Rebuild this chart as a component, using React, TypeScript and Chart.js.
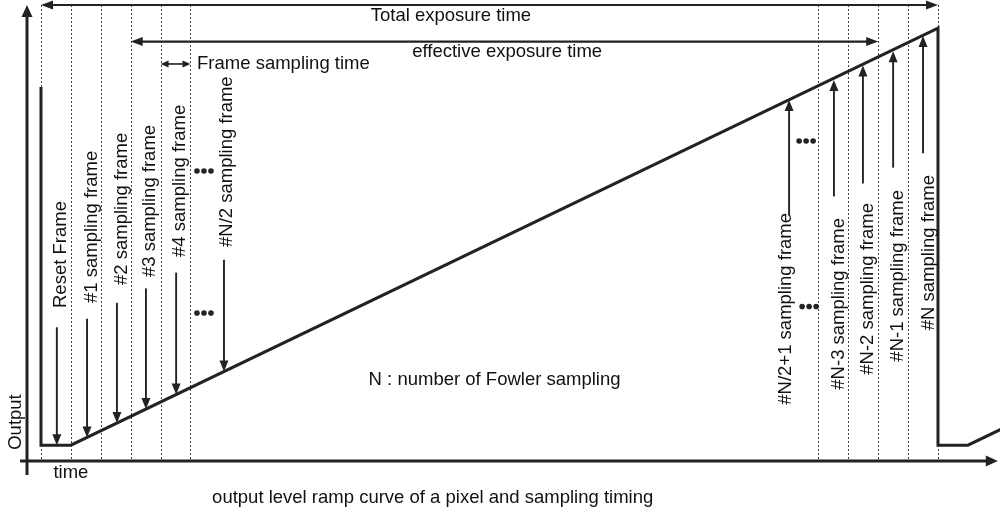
import React, { useEffect, useRef } from "react";
import { Chart, registerables } from "chart.js";

Chart.register(...registerables);

// ---- data (time in frame units, output in arbitrary units) ----
const frameBoundaries = [0, 1, 2, 3, 4, 5, 26, 27, 28, 29, 30];
const signalTime = [0, 0, 1, 30, 30, 31, 32.1];
const signalOutput = [26.0, 1.1, 1.1, 30.1, 1.1, 1.1, 2.2];

const leftFrameLabels = [
  "Reset Frame",
  "#1 sampling frame",
  "#2 sampling frame",
  "#3 sampling frame",
  "#4 sampling frame",
  "#N/2 sampling frame",
];
const leftArrowTime = [0.53, 1.54, 2.54, 3.51, 4.52, 6.12];
const leftArrowFrom = [9.3, 9.9, 11.0, 12.0, 13.1, 14.0];
const leftArrowTo = [1.1, 1.64, 2.64, 3.61, 4.62, 6.22];
const leftLabelTime = [0.67, 1.71, 2.71, 3.65, 4.65, 6.22];
const leftLabelOutput = [10.64, 10.99, 12.24, 12.79, 14.19, 14.88];

const rightFrameLabels = [
  "#N/2+1 sampling frame",
  "#N-3 sampling frame",
  "#N-2 sampling frame",
  "#N-1 sampling frame",
  "#N sampling frame",
];
const rightArrowTime = [25.02, 26.52, 27.49, 28.5, 29.5];
const rightArrowFrom = [17.1, 18.4, 19.3, 20.4, 21.4];
const rightArrowTo = [25.1, 26.5, 27.5, 28.5, 29.55];
const rightLabelTime = [24.92, 26.69, 27.66, 28.66, 29.7];
const rightLabelOutput = [17.25, 16.9, 17.94, 18.85, 19.89];

const ellipsisTime = [5.45, 5.45, 25.59, 25.69];
const ellipsisOutput = [20.17, 10.29, 22.25, 10.74];

const spanLabels = ["Total exposure time", "effective exposure time", "Frame sampling time"];
const spanStart = [0, 3, 4];
const spanEnd = [30, 28, 5];
const spanOutput = [31.71, 29.17, 27.61];
const spanLabelTime = [13.71, 15.59, 5.22];
const spanLabelOutput = [30.95, 28.44, 27.61];

const noteText = "N : number of Fowler sampling";
const noteTime = 15.17;
const noteOutput = 5.63;
const xAxisTitle = "time";
const yAxisTitle = "Output";
const caption = "output level ramp curve of a pixel and sampling timing";

const xAxisRange = [-0.7, 32.0];
const yAxisRange = [-0.97, 31.71];
const yAxisAt = -0.468;

const X_MIN = -1.371;
const X_MAX = 32.074;
const Y_MIN = -3.686;
const Y_MAX = 32.058;

const INK = "#222";
const FONT = "18.5px 'Liberation Sans', Arial, Helvetica, sans-serif";

function arrowHead(ctx: CanvasRenderingContext2D, x1: number, y1: number, x2: number, y2: number, len: number, hw: number) {
  const a = Math.atan2(y2 - y1, x2 - x1);
  ctx.beginPath();
  ctx.moveTo(x2, y2);
  ctx.lineTo(x2 - len * Math.cos(a) + hw * Math.sin(a), y2 - len * Math.sin(a) - hw * Math.cos(a));
  ctx.lineTo(x2 - len * Math.cos(a) - hw * Math.sin(a), y2 - len * Math.sin(a) + hw * Math.cos(a));
  ctx.closePath();
  ctx.fill();
}

function arrow(ctx: CanvasRenderingContext2D, x1: number, y1: number, x2: number, y2: number, len: number, hw: number) {
  const a = Math.atan2(y2 - y1, x2 - x1);
  ctx.beginPath();
  ctx.moveTo(x1, y1);
  ctx.lineTo(x2 - (len - 1) * Math.cos(a), y2 - (len - 1) * Math.sin(a));
  ctx.stroke();
  arrowHead(ctx, x1, y1, x2, y2, len, hw);
}

const diagramPlugin = {
  id: "diagram",
  beforeDatasetsDraw(chart: any) {
    const ctx: CanvasRenderingContext2D = chart.ctx;
    const xs = chart.scales.x;
    const ys = chart.scales.y;
    const px = (t: number) => xs.getPixelForValue(t);
    const py = (v: number) => ys.getPixelForValue(v);
    ctx.save();
    // dotted frame boundaries
    ctx.strokeStyle = "#444";
    ctx.lineWidth = 1;
    ctx.setLineDash([2, 2]);
    frameBoundaries.forEach((t) => {
      const x = Math.round(px(t)) + 0.5;
      ctx.beginPath();
      ctx.moveTo(x, py(spanOutput[0]));
      ctx.lineTo(x, py(0));
      ctx.stroke();
    });
    ctx.setLineDash([]);
    // axes
    ctx.strokeStyle = INK;
    ctx.fillStyle = INK;
    ctx.lineWidth = 3;
    ctx.lineCap = "butt";
    arrow(ctx, px(xAxisRange[0]), py(0), px(xAxisRange[1]), py(0), 12, 5.5);
    arrow(ctx, px(yAxisAt), py(yAxisRange[0]), px(yAxisAt), py(yAxisRange[1]), 12, 5.5);
    ctx.restore();
  },
  afterDatasetsDraw(chart: any) {
    const ctx: CanvasRenderingContext2D = chart.ctx;
    const xs = chart.scales.x;
    const ys = chart.scales.y;
    const px = (t: number) => xs.getPixelForValue(t);
    const py = (v: number) => ys.getPixelForValue(v);
    ctx.save();
    ctx.strokeStyle = INK;
    ctx.fillStyle = INK;

    // span arrows (double-headed)
    spanLabels.forEach((_, i) => {
      const small = i === 2;
      ctx.lineWidth = small ? 1.6 : 2.2;
      const len = small ? 8 : 12;
      const hw = small ? 3.5 : 4.5;
      const y = py(spanOutput[i]);
      const xa = px(spanStart[i]);
      const xb = px(spanEnd[i]);
      ctx.beginPath();
      ctx.moveTo(xa + len - 1, y);
      ctx.lineTo(xb - len + 1, y);
      ctx.stroke();
      arrowHead(ctx, xb, y, xa, y, len, hw);
      arrowHead(ctx, xa, y, xb, y, len, hw);
    });

    // sampling arrows
    ctx.lineWidth = 1.9;
    leftArrowTime.forEach((t, i) => {
      arrow(ctx, px(t), py(leftArrowFrom[i]), px(t), py(leftArrowTo[i]), 11, 4.5);
    });
    rightArrowTime.forEach((t, i) => {
      arrow(ctx, px(t), py(rightArrowFrom[i]), px(t), py(rightArrowTo[i]), 11, 4.5);
    });

    // ellipsis dots
    ellipsisTime.forEach((t, i) => {
      const cx = px(t);
      const cy = py(ellipsisOutput[i]);
      [-7, 0, 7].forEach((d) => {
        ctx.beginPath();
        ctx.arc(cx + d, cy, 2.8, 0, Math.PI * 2);
        ctx.fill();
      });
    });

    // texts
    ctx.font = FONT;
    ctx.textBaseline = "middle";
    ctx.fillStyle = "#111";
    ctx.textAlign = "center";
    ctx.fillText(spanLabels[0], px(spanLabelTime[0]), py(spanLabelOutput[0]));
    ctx.fillText(spanLabels[1], px(spanLabelTime[1]), py(spanLabelOutput[1]));
    ctx.textAlign = "left";
    ctx.fillText(spanLabels[2], px(spanLabelTime[2]), py(spanLabelOutput[2]));
    ctx.textAlign = "center";
    ctx.fillText(noteText, px(noteTime), py(noteOutput));
    ctx.fillText(xAxisTitle, px(1.0), py(-0.83));
    ctx.fillText(caption, px(13.1), py(-2.57));

    const vtext = (s: string, x: number, y: number, align: CanvasTextAlign) => {
      ctx.save();
      ctx.translate(x, y);
      ctx.rotate(-Math.PI / 2);
      ctx.textAlign = align;
      ctx.fillText(s, 0, 0);
      ctx.restore();
    };
    vtext(yAxisTitle, px(-0.836), py(2.71), "center");
    leftFrameLabels.forEach((s, i) => vtext(s, px(leftLabelTime[i]), py(leftLabelOutput[i]), "left"));
    rightFrameLabels.forEach((s, i) => vtext(s, px(rightLabelTime[i]), py(rightLabelOutput[i]), "right"));
    ctx.restore();
  },
};

export default function App() {
  const ref = useRef<HTMLCanvasElement | null>(null);
  useEffect(() => {
    document.body.style.margin = "0";
    if (!ref.current) return;
    const chart = new Chart(ref.current, {
      type: "scatter",
      data: {
        datasets: [
          {
            data: signalTime.map((t, i) => ({ x: t, y: signalOutput[i] })),
            showLine: true,
            borderColor: INK,
            borderWidth: 3,
            pointRadius: 0,
            borderJoinStyle: "miter",
            tension: 0,
          } as any,
        ],
      },
      options: {
        animation: false,
        responsive: false,
        events: [],
        layout: { padding: 0 },
        plugins: { legend: { display: false }, tooltip: { enabled: false } },
        scales: {
          x: { type: "linear", min: X_MIN, max: X_MAX, display: false },
          y: { type: "linear", min: Y_MIN, max: Y_MAX, display: false },
        },
      },
      plugins: [diagramPlugin],
    });
    return () => chart.destroy();
  }, []);
  return (
    <div style={{ position: "absolute", left: 0, top: 0, width: 1000, height: 514, background: "#fff" }}>
      <canvas ref={ref} width={1000} height={514} style={{ display: "block" }} />
    </div>
  );
}
